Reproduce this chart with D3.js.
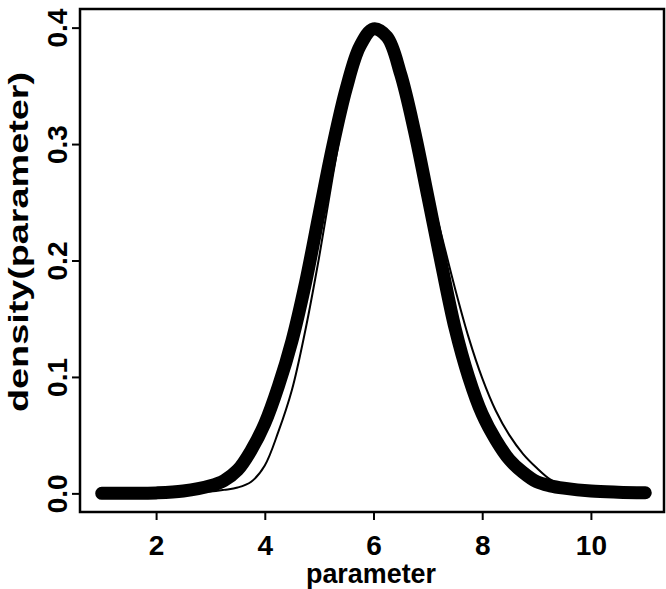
<!DOCTYPE html>
<html>
<head>
<meta charset="utf-8">
<title>density</title>
<style>
  body { margin: 0; background: #fff; }
  text { font-family: "Liberation Sans", Arial, sans-serif; font-weight: bold; fill: #000; }
</style>
</head>
<body>
<script src="https://d3js.org/d3.v7.min.js"></script>
<script>
// values
var xs = [1, 1.5, 2, 2.5, 3, 3.25, 3.5, 3.75, 4, 4.25, 4.5, 4.75, 5, 5.25, 5.5, 5.75, 6, 6.25,
          6.5, 6.75, 7, 7.25, 7.5, 7.75, 8, 8.25, 8.5, 8.75, 9, 9.25, 9.5, 10, 10.5, 11];
var thickDensity = [0, 0.0001, 0.0004, 0.002, 0.0065, 0.011, 0.020, 0.037, 0.060, 0.092, 0.131, 0.181,
          0.240, 0.298, 0.348, 0.384, 0.399, 0.392, 0.360, 0.312, 0.255, 0.197, 0.142, 0.100,
          0.068, 0.046, 0.029, 0.018, 0.010, 0.0065, 0.0045, 0.002, 0.001, 0.0005];
var thinDensity = [0, 0, 0.0001, 0.0004, 0.0015, 0.003, 0.005, 0.010, 0.024, 0.053, 0.089, 0.141,
          0.203, 0.272, 0.335, 0.379, 0.398, 0.394, 0.366, 0.320, 0.268, 0.222, 0.176, 0.134,
          0.099, 0.071, 0.050, 0.034, 0.022, 0.012, 0.006, 0.0015, 0.0004, 0.0001];
var xTicks = [2, 4, 6, 8, 10];
var yTicks = [0, 0.1, 0.2, 0.3, 0.4];

var width = 666, height = 589;
var box = {left: 80, right: 664, top: 9, bottom: 512};

var svg = d3.select("body").append("svg").attr("width", width).attr("height", height);

// R style: data range padded by 4%
var x = d3.scaleLinear().domain([0.6, 11.4]).range([box.left, 667]);
var y = d3.scaleLinear().domain([-0.016, 0.416]).range([box.bottom, box.top]);

var xAxis = d3.axisBottom(x).tickValues(xTicks).tickSize(8).tickFormat(d3.format("d"));
var yAxis = d3.axisLeft(y).tickValues(yTicks).tickSize(8).tickFormat(d3.format(".1f"));

var gx = svg.append("g").attr("transform", "translate(0," + box.bottom + ")").call(xAxis);
var gy = svg.append("g").attr("transform", "translate(" + box.left + ",0)").call(yAxis);

[gx, gy].forEach(function(g) {
  g.select(".domain").remove();
  g.selectAll("line").attr("stroke", "#000").attr("stroke-width", 2);
  g.selectAll("text").style("font-size", "28px").attr("fill", "#000");
});
gx.selectAll("text").attr("y", 43).attr("dy", 0);
gy.selectAll("text")
  .attr("transform", "translate(-13,0) rotate(-90)")
  .attr("x", 0).attr("y", 0).attr("dy", 0)
  .attr("text-anchor", "middle");

// plot box
svg.append("rect")
  .attr("x", box.left).attr("y", box.top)
  .attr("width", box.right - box.left).attr("height", box.bottom - box.top)
  .attr("fill", "none").attr("stroke", "#000").attr("stroke-width", 2.5);

var line = d3.line()
  .x(function(d, i) { return x(xs[i]); })
  .y(function(d) { return y(d); })
  .curve(d3.curveCatmullRom.alpha(0.5));

svg.append("path").datum(thinDensity)
  .attr("d", line).attr("fill", "none").attr("stroke", "#000").attr("stroke-width", 2);

svg.append("path").datum(thickDensity)
  .attr("d", line).attr("fill", "none").attr("stroke", "#000")
  .attr("stroke-width", 13).attr("stroke-linecap", "round").attr("stroke-linejoin", "round");

// axis titles
svg.append("text").attr("x", 371).attr("y", 583)
  .attr("text-anchor", "middle").style("font-size", "27px")
  .attr("textLength", 130).attr("lengthAdjust", "spacingAndGlyphs")
  .text("parameter");
svg.append("text").attr("transform", "translate(28,242) rotate(-90)")
  .attr("text-anchor", "middle").style("font-size", "28px")
  .attr("textLength", 340).attr("lengthAdjust", "spacingAndGlyphs")
  .text("density(parameter)");
</script>
</body>
</html>
